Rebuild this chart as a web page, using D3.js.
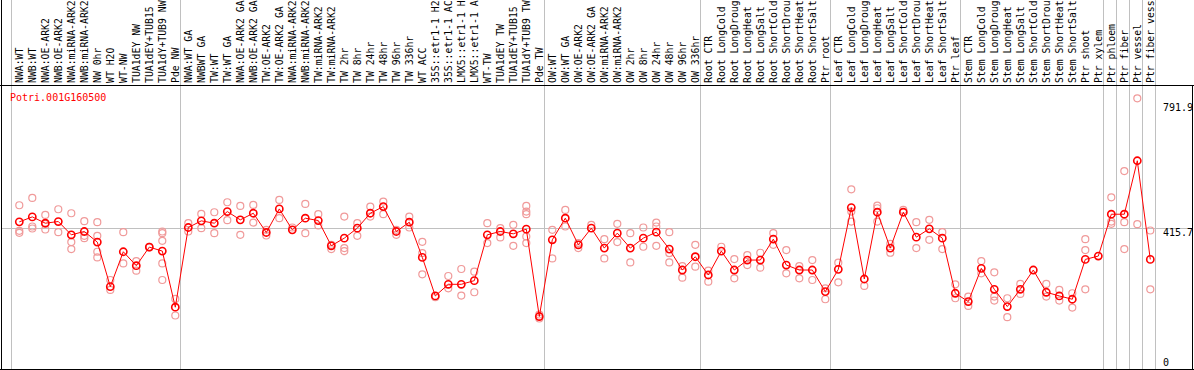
<!DOCTYPE html>
<html><head><meta charset="utf-8">
<script src="https://cdn.jsdelivr.net/npm/d3@7"></script>
<style>body{margin:0;background:#fff}svg{display:block}text{font-family:"DejaVu Sans Mono",monospace;font-size:10px}</style>
</head><body>
<script>
const gene = "Potri.001G160500";
const categories = ["NWA:WT","NWB:WT","NWA:OE-ARK2","NWB:OE-ARK2","NWA:miRNA-ARK2","NWB:miRNA-ARK2","NW 0hr","WT H2O","WT-NW","TUA1dEY NW","TUA1dEY+TUB15","TUA1dY+TUB9 NW","Pde NW",
"NWA:WT GA","NWBWT GA","TW:WT","TW:WT GA","NWA:OE-ARK2 GA","NWB:OE-ARK2 GA","TW:OE-ARK2","TW:OE-ARK2 GA","NWA:miRNA-ARK2","NWB:miRNA-ARK2","TW:miRNA-ARK2","TW:miRNA-ARK2","TW 2hr","TW 8hr","TW 24hr","TW 48hr","TW 96hr","TW 336hr","WT ACC","35S::etr1-1 H2","35S::etr1-1 AC","LMX5::etr1-1 H","LMX5::etr1-1 A","WT-TW","TUA1dEY TW","TUA1dEY+TUB15","TUA1dY+TUB9 TW","Pde TW",
"OW:WT","OW:WT GA","OW:OE-ARK2","OW:OE-ARK2 GA","OW:miRNA-ARK2","OW:miRNA-ARK2","OW 2hr","OW 8hr","OW 24hr","OW 48hr","OW 96hr","OW 336hr",
"Root CTR","Root LongCold","Root LongDroug","Root LongHeat","Root LongSalt","Root ShortCold","Root ShortDrou","Root ShortHeat","Root ShortSalt","Ptr root",
"Leaf CTR","Leaf LongCold","Leaf LongDroug","Leaf LongHeat","Leaf LongSalt","Leaf ShortCold","Leaf ShortDrou","Leaf ShortHeat","Leaf ShortSalt","Ptr leaf",
"Stem CTR","Stem LongCold","Stem LongDroug","Stem LongHeat","Stem LongSalt","Stem ShortCold","Stem ShortDrou","Stem ShortHeat","Stem ShortSalt","Ptr shoot","Ptr xylem",
"Ptr phloem","Ptr fiber","Ptr vessel","Ptr fiber vess"];
const groupStarts = [0,13,41,53,63,73,84,85,86,87,88];
const means = [434,449,430,435,395,405,373,239,344,302,
358,346,177,417,437,430,465,440,460,402,
473,410,445,438,362,385,415,460,480,405,
433,327,211,246,246,257,395,405,398,412,
149,380,445,365,415,355,400,355,385,403,
352,289,329,274,346,289,319,319,382,304,
289,289,224,291,477,262,463,355,463,388,
413,385,219,194,294,231,179,231,289,222,
211,201,321,331,457,457,618,321];
const replicates = [[484,407,401],[506,420,414],[455,428,411],[472,403],[460,373,352],[436,392,385],[433,392,344,327],[259,229],[403,309],[316,287],
[359,357],[405,400,377,309,259],[202,152],[430,405],[458,415],[463,400],[493,439],[482,395],[485,432],[410,393],
[500,445],[417],[488,400],[457,423],[352,365],[450,355,346],[430,392],[480,450],[495,457],[410,395],
[450,417],[374,340,276],[207],[271,234],[292,212],[284,222],[430,370],[415,387],[425,362],[482,465,457,390,370],
[155,143],[410,324],[470,420],[370,355],[425],[382,324],[428,373],[400,312],[417,359],[432,420,362],
[403,340,312],[301,266],[365,299],[287,254],[359],[322,264],[334,304],[341,296],[400,365],[349,279],
[301,264],[319,259],[234,201],[311,252],[532,465,435],[241],[483,475,435],[368,341],[470],[433,355],
[440,380],[403,352],[246,204],[209,181],[316,279],[282,209,197],[204,147],[247,217],[],[247,209],
[229,197],[219,176],[382,349,231],[],[508,435,428],[587,433,352],[806,427],[408,231]];
const axisTicks = [0,415.7,791.9];

const W=1194,H=370;
const svg=d3.select("body").append("svg").attr("width",W).attr("height",H);
const x=d3.scaleLinear().domain([0,categories.length-1]).range([19.3,1150.3]);
const y=d3.scaleLinear().domain([0,791.9]).range([366,103]);
const gx=k=>Math.round(x(k)-8.6)+0.5;

svg.selectAll("line.grp").data(groupStarts).enter().append("line")
 .attr("x1",gx).attr("x2",gx).attr("y1",0).attr("y2",369).attr("stroke","#c0c0c0").attr("stroke-width",1);
svg.append("line").attr("x1",2).attr("x2",1192).attr("y1",Math.round(y(415.7))+0.5).attr("y2",Math.round(y(415.7))+0.5).attr("stroke","#c0c0c0");
svg.append("line").attr("x1",1.5).attr("x2",1.5).attr("y1",0).attr("y2",370).attr("stroke","#000");
svg.append("line").attr("x1",1192.5).attr("x2",1192.5).attr("y1",85).attr("y2",370).attr("stroke","#000");
svg.append("line").attr("x1",0).attr("x2",1194).attr("y1",85.5).attr("y2",85.5).attr("stroke","#000");
svg.append("line").attr("x1",0).attr("x2",1194).attr("y1",369.5).attr("y2",369.5).attr("stroke","#000");

svg.selectAll("text.cat").data(categories).enter().append("text")
 .attr("transform",(d,i)=>`translate(${x(i)+3.6},83) rotate(-90)`)
 .style("font-size","9.8px").attr("fill","#000").text(d=>d);

svg.append("text").attr("x",10).attr("y",101).attr("fill","#ff0000").text(gene);

svg.selectAll("text.tick").data(axisTicks).enter().append("text")
 .attr("x",1163).attr("y",d=>Math.min(y(d)+8,366)).attr("fill","#000").text(d=>d===0?"0":d.toFixed(1));

const reps=[];replicates.forEach((a,i)=>a.forEach(v=>reps.push({i,v})));
svg.selectAll("circle.rep").data(reps).enter().append("circle")
 .attr("cx",d=>x(d.i)).attr("cy",d=>y(d.v)).attr("r",3.5)
 .attr("fill","none").attr("stroke","#f09a9a").attr("stroke-width",1.2);
svg.append("path").datum(means).attr("fill","none").attr("stroke","#ff0000").attr("stroke-width",1)
 .attr("d",d3.line().x((d,i)=>x(i)).y(d=>y(d)));
svg.selectAll("circle.m").data(means).enter().append("circle")
 .attr("cx",(d,i)=>x(i)).attr("cy",d=>y(d)).attr("r",3.6)
 .attr("fill","none").attr("stroke","#ff0000").attr("stroke-width",1.6);
</script>
</body></html>
